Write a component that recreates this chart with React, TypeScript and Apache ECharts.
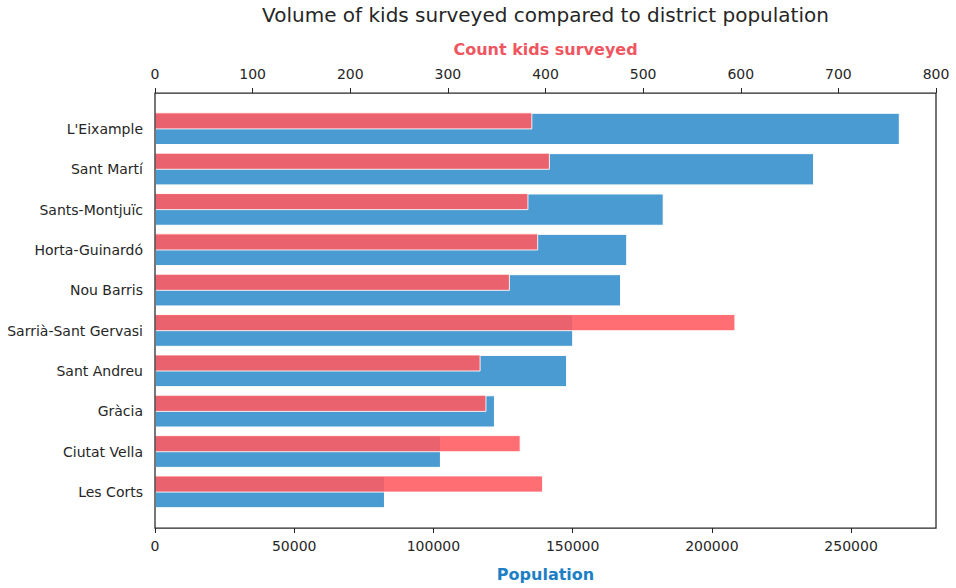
import React, { useEffect, useRef } from "react";
import * as echarts from "echarts";

const districts = [
  "L'Eixample",
  "Sant Martí",
  "Sants-Montjuïc",
  "Horta-Guinardó",
  "Nou Barris",
  "Sarrià-Sant Gervasi",
  "Sant Andreu",
  "Gràcia",
  "Ciutat Vella",
  "Les Corts",
];
const population = [267500, 236700, 182700, 169600, 167400, 150200, 148000, 122100, 102700, 82600];
const kidsSurveyed = [386, 404, 382, 392, 363, 594, 333, 339, 374, 397];
const populationTicks = [0, 50000, 100000, 150000, 200000, 250000];
const kidsTicks = [0, 100, 200, 300, 400, 500, 600, 700, 800];

const FONT = "DejaVu Sans";
const INK = "#262626";

export default function App() {
  const ref = useRef<HTMLDivElement>(null);
  useEffect(() => {
    if (!ref.current) return;
    const chart = echarts.init(ref.current, undefined, { renderer: "svg" });
    const plotLeft = 155;
    const plotRight = 20;
    const frameTop = 93;
    const frameBottom = 528;
    const n = districts.length;
    const units = n - 1 + 0.8 + 2 * 0.49; // matplotlib-like margins
    const unit = (frameBottom - frameTop) / units;
    const gridTop = frameTop + (0.89 - 0.5) * unit;
    const gridBottomPx = gridTop + n * unit;
    const offsetPx = gridTop - frameTop;

    chart.setOption({
      animation: false,
      textStyle: { fontFamily: FONT },
      title: {
        text: "Volume of kids surveyed compared to district population",
        left: 545.5,
        top: 5,
        padding: 0,
        textAlign: "center",
        textStyle: { fontFamily: FONT, fontSize: 20, fontWeight: "normal", color: INK },
      },
      grid: {
        left: plotLeft,
        right: plotRight,
        top: gridTop,
        bottom: 588 - gridBottomPx,
        containLabel: false,
      },
      xAxis: [
        {
          type: "value",
          position: "bottom",
          min: 0,
          max: 280500,
          offset: offsetPx,
          name: "Population",
          nameLocation: "middle",
          nameGap: 38,
          nameTextStyle: { fontFamily: FONT, fontSize: 16, fontWeight: "bold", color: "#1c7fc5" },
          axisLine: { show: false },
          axisTick: {
            show: true,
            length: 5,
            customValues: populationTicks,
            lineStyle: { color: INK, width: 1 },
          },
          axisLabel: {
            customValues: populationTicks,
            formatter: (v: number) => String(v),
            margin: 11,
            fontSize: 14,
            color: INK,
            fontFamily: FONT,
          },
          splitLine: { show: false },
        },
        {
          type: "value",
          position: "top",
          min: 0,
          max: 800,
          interval: 100,
          offset: offsetPx,
          name: "Count kids surveyed",
          nameLocation: "middle",
          nameGap: 36,
          nameTextStyle: { fontFamily: FONT, fontSize: 16, fontWeight: "bold", color: "#f0565f" },
          axisLine: { show: false },
          axisTick: {
            show: true,
            length: 5,
            customValues: kidsTicks,
            lineStyle: { color: INK, width: 1 },
          },
          axisLabel: {
            customValues: kidsTicks,
            formatter: (v: number) => String(v),
            margin: 12,
            fontSize: 14,
            color: INK,
            fontFamily: FONT,
          },
          splitLine: { show: false },
        },
      ],
      yAxis: {
        type: "category",
        data: districts,
        inverse: true,
        axisLine: { show: false },
        axisTick: { show: false },
        axisLabel: { margin: 12, fontSize: 14, color: INK, fontFamily: FONT },
        splitLine: { show: false },
      },
      series: [
        {
          type: "bar",
          name: "Population",
          xAxisIndex: 0,
          yAxisIndex: 0,
          data: population,
          barWidth: "80%",
          itemStyle: { color: "#4a9bd1", borderColor: "#ffffff", borderWidth: 1 },
          z: 2,
        },
        {
          type: "custom",
          name: "Count kids surveyed",
          xAxisIndex: 1,
          yAxisIndex: 0,
          encode: { x: 0, y: 1 },
          data: kidsSurveyed.map((v, i) => [v, i]),
          z: 3,
          renderItem: (params: any, api: any) => {
            const cat = api.value(1);
            const start = api.coord([0, cat]);
            const end = api.coord([api.value(0), cat]);
            const band = api.size([0, 1])[1];
            const h = band * 0.4;
            return {
              type: "rect",
              shape: { x: start[0], y: start[1] - h, width: end[0] - start[0], height: h },
              style: { fill: "#ff5a5f", opacity: 0.88, stroke: "#ffffff", lineWidth: 1 },
            };
          },
        },
      ],
      graphic: [
        {
          type: "rect",
          z: 100,
          silent: true,
          shape: {
            x: plotLeft,
            y: frameTop,
            width: 956 - plotLeft - plotRight,
            height: frameBottom - frameTop,
          },
          style: { fill: "none", stroke: INK, lineWidth: 1.25 },
        },
      ],
    });
    return () => chart.dispose();
  }, []);
  return <div ref={ref} style={{ width: 956, height: 588, position: "absolute", left: 0, top: 0 }} />;
}
